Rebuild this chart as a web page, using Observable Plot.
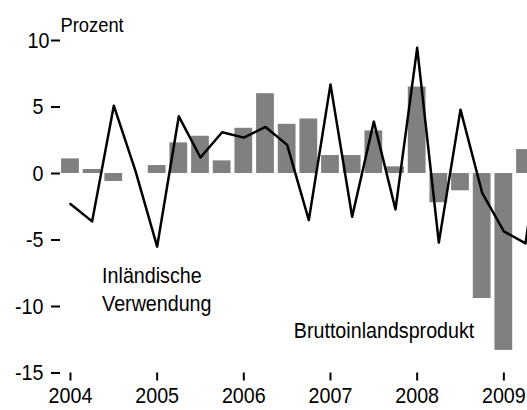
<!DOCTYPE html>
<html>
<head>
<meta charset="utf-8">
<script src="https://cdn.jsdelivr.net/npm/d3@7"></script>
<script src="https://cdn.jsdelivr.net/npm/@observablehq/plot@0.6"></script>
<style>
  html, body { margin: 0; padding: 0; background: #fff; overflow: hidden; }
  #chart svg { display: block; }
</style>
</head>
<body>
<div id="chart"></div>
<script>
// Quarters (first quarter of 2004 up to third quarter of 2009)
const quarters = [
  "2004 Q1","2004 Q2","2004 Q3","2004 Q4",
  "2005 Q1","2005 Q2","2005 Q3","2005 Q4",
  "2006 Q1","2006 Q2","2006 Q3","2006 Q4",
  "2007 Q1","2007 Q2","2007 Q3","2007 Q4",
  "2008 Q1","2008 Q2","2008 Q3","2008 Q4",
  "2009 Q1","2009 Q2","2009 Q3"
];
// Bruttoinlandsprodukt (bars), Prozent
const bip = [1.1, 0.3, -0.6, 0.0, 0.6, 2.3, 2.8, 0.95, 3.4, 6.0, 3.7, 4.1,
             1.35, 1.35, 3.2, 0.5, 6.5, -2.2, -1.3, -9.4, -13.3, 1.8, null];
// Inländische Verwendung (line), Prozent
const inl = [-2.3, -3.6, 5.1, 0.2, -5.5, 4.3, 1.2, 3.1, 2.7, 3.5, 2.15, -3.5,
             6.7, -3.25, 3.9, -2.7, 9.45, -5.2, 4.8, -1.45, -4.35, -5.25, 6.0];
const yearTicks = [2004, 2005, 2006, 2007, 2008, 2009];
const yTicks = [-15, -10, -5, 0, 5, 10];

const rows = quarters.map((q, i) => ({
  q,
  t: +q.slice(0, 4) + (+q.slice(-1) - 1) / 4,
  bip: bip[i],
  inl: inl[i]
}));
const half = 0.1025;

const chart = Plot.plot({
  width: 527,
  height: 410,
  marginLeft: 60,
  marginRight: 0,
  marginTop: 40,
  marginBottom: 37.5,
  style: { fontFamily: "'Liberation Sans', Arial, sans-serif", fontSize: "22px", background: "#fff", color: "#000" },
  x: { type: "linear", domain: [2003.885, 2009.273] },
  y: { domain: [-15, 10] },
  marks: [
    Plot.rectY(rows.filter(d => d.bip != null), {
      x1: d => d.t - half, x2: d => d.t + half, y: "bip",
      fill: "#808080", clip: true
    }),
    Plot.line(rows, { x: "t", y: "inl", stroke: "#000", strokeWidth: 2.5, clip: true }),
    Plot.axisY(yTicks.filter(v => v !== 10), {
      tickSize: 9, tickPadding: 8, strokeWidth: 2, tickFormat: d => String(d), label: null
    }),
    Plot.axisY([10], {
      tickSize: 9, tickPadding: 2, strokeWidth: 2, tickFormat: d => String(d), label: null
    }),
    Plot.axisX(yearTicks, {
      tickSize: 8, tickPadding: 6.5, strokeWidth: 2, tickFormat: d => String(d), label: null
    }),
    Plot.text(["Prozent"], {
      frameAnchor: "top-left", textAnchor: "start", lineAnchor: "bottom",
      dy: -9, fontSize: 20.5
    }),
    Plot.text(["Inländische\nVerwendung"], {
      x: 2004.365, y: -6.77, textAnchor: "start", lineAnchor: "top", lineHeight: 1.25
    }),
    Plot.text(["Bruttoinlandsprodukt"], {
      x: 2006.577, y: -11.18, textAnchor: "start", lineAnchor: "top"
    })
  ]
});

document.getElementById("chart").appendChild(chart);

// Narrow the type horizontally to match the condensed look of the original
chart.querySelectorAll("text").forEach(el => {
  const t = el.getAttribute("transform") || "";
  const x = el.getAttribute("x");
  if (x == null) {
    el.setAttribute("transform", (t + " scale(0.895,1)").trim());
  } else {
    el.setAttribute("transform", (t + ` translate(${x},0) scale(0.895,1) translate(${-x},0)`).trim());
  }
});
</script>
</body>
</html>
